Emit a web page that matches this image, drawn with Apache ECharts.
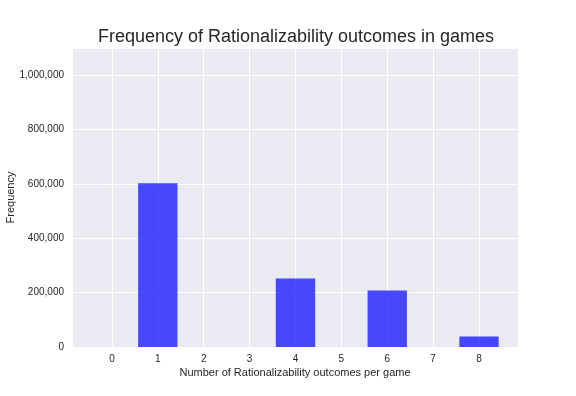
<!DOCTYPE html>
<html><head><meta charset="utf-8">
<script src="https://cdn.jsdelivr.net/npm/echarts@6/dist/echarts.min.js"></script>
<style>html,body{margin:0;padding:0;background:#fff}#c{width:576px;height:396px}</style>
</head><body><div id="c"></div>
<script>
const titleText = 'Frequency of Rationalizability outcomes in games';
const xName = 'Number of Rationalizability outcomes per game';
const yName = 'Frequency';
const outcomes = [1, 4, 6, 8];
const frequencies = [602000, 252000, 208000, 39000];
const binWidth = 0.857;

const chart = echarts.init(document.getElementById('c'), null, {renderer: 'canvas'});
const font = 'Liberation Sans, Arial, sans-serif';
chart.setOption({
  backgroundColor: '#ffffff',
  animation: false,
  title: {text: titleText, left: 291, textAlign: 'center', top: 23,
    textStyle: {fontFamily: font, fontSize: 18, fontWeight: 'normal', color: '#262626'}},
  grid: {left: 72, right: 58, top: 48, bottom: 49, show: true, backgroundColor: '#eaeaf2', borderWidth: 0,
    containLabel: false, outerBoundsMode: 'none'},
  xAxis: {type: 'value', min: -0.87, max: 8.85, splitNumber: 10, minInterval: 1, maxInterval: 1,
    name: xName, nameLocation: 'middle', nameGap: 20, nameMoveOverlap: false,
    nameTextStyle: {fontFamily: font, fontSize: 11, color: '#262626'},
    axisLine: {show: false}, axisTick: {show: false},
    axisLabel: {fontFamily: font, fontSize: 10, color: '#262626', margin: 7, showMinLabel: false, showMaxLabel: false},
    splitLine: {show: true, lineStyle: {color: '#ffffff', width: 1}}},
  yAxis: {type: 'value', min: 0, max: 1100000, interval: 200000,
    name: yName, nameLocation: 'middle', nameGap: 56, nameMoveOverlap: false,
    nameTextStyle: {fontFamily: font, fontSize: 11, color: '#262626'},
    axisLine: {show: false}, axisTick: {show: false},
    axisLabel: {fontFamily: font, fontSize: 10, color: '#262626', margin: 8, showMaxLabel: false,
      formatter: v => v.toLocaleString('en-US')},
    splitLine: {show: true, lineStyle: {color: '#ffffff', width: 1}}},
  series: [{
    type: 'custom',
    data: outcomes.map((x, i) => [x, frequencies[i]]),
    renderItem: function (params, api) {
      const x = api.value(0), y = api.value(1);
      const p0 = api.coord([x - binWidth / 2, y]);
      const p1 = api.coord([x + binWidth / 2, 0]);
      return {type: 'rect', shape: {x: p0[0], y: p0[1], width: p1[0] - p0[0], height: p1[1] - p0[1]},
        style: {fill: 'rgba(0,0,255,0.7)'}};
    }
  }]
});
</script></body></html>
